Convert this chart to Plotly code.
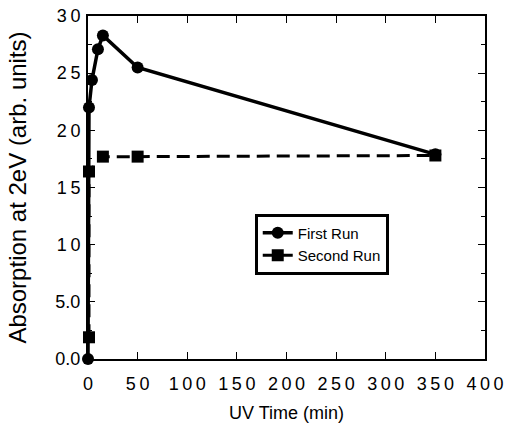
import plotly.graph_objects as go

first_t = [0, 1, 4, 10, 15, 50, 350]
first_abs = [0.0, 22.0, 24.4, 27.1, 28.3, 25.5, 17.9]
second_t = [1, 1, 15, 50, 350]
second_abs = [1.9, 16.4, 17.7, 17.7, 17.8]

y_tickvals = [0, 5, 10, 15, 20, 25, 30]
y_ticktext = ["0.0", "5.0", "1\u20090", "1\u20095", "2\u20090", "2\u20095", "3\u20090"]
x_tickvals = [0, 50, 100, 150, 200, 250, 300, 350, 400]
x_ticktext = ["0", "5\u20090", "1\u20090\u20090", "1\u20095\u20090", "2\u20090\u20090",
              "2\u20095\u20090", "3\u20090\u20090", "3\u20095\u20090", "4\u20090\u20090"]

FONT = "Liberation Sans, Arial, sans-serif"

fig = go.Figure()
fig.add_trace(go.Scatter(
    x=first_t, y=first_abs, mode="lines+markers", name="First Run",
    line=dict(color="black", width=3.5),
    marker=dict(symbol="circle", size=12, color="black"),
    cliponaxis=False,
))
fig.add_trace(go.Scatter(
    x=second_t, y=second_abs, mode="lines+markers", name="Second Run",
    line=dict(color="black", width=3, dash="13px,7px"),
    marker=dict(symbol="square", size=12, color="black"),
    cliponaxis=False,
))

fig.update_layout(
    width=506, height=425,
    margin=dict(l=88, r=21, t=16, b=66, autoexpand=False),
    paper_bgcolor="white", plot_bgcolor="white",
    font=dict(family=FONT, size=18, color="black"),
    showlegend=True,
    legend=dict(
        x=0.42, y=0.424, xanchor="left", yanchor="top",
        bgcolor="white", bordercolor="black", borderwidth=3,
        font=dict(family=FONT, size=15, color="black"),
        itemwidth=30, tracegroupgap=0,
    ),
    xaxis=dict(
        range=[0, 400], tickvals=x_tickvals, ticktext=x_ticktext,
        ticks="inside", ticklen=7, tickwidth=1, tickcolor="black",
        showline=True, linecolor="black", linewidth=2, mirror="ticks",
        showgrid=False, zeroline=False, automargin=False,
        ticklabelstandoff=7, ticklabeloverflow="allow",
        tickfont=dict(family=FONT, size=18),
        title=dict(text="UV Time (min)", font=dict(family=FONT, size=18), standoff=14),
    ),
    yaxis=dict(
        range=[0, 30], tickvals=y_tickvals, ticktext=y_ticktext,
        ticks="inside", ticklen=7, tickwidth=1, tickcolor="black",
        minor=dict(tickvals=[2.5, 7.5, 12.5, 17.5, 22.5, 27.5], ticks="inside", ticklen=4, tickcolor="black"),
        showline=True, linecolor="black", linewidth=2, mirror="ticks",
        showgrid=False, zeroline=False, automargin=False,
        ticklabelstandoff=2, ticklabeloverflow="allow",
        tickfont=dict(family=FONT, size=18),
        title=dict(text="Absorption at 2eV (arb. units)", font=dict(family=FONT, size=24), standoff=22),
    ),
)

# remove the default 8px page margin so the figure fills the window exactly
fig.write_html("out.html", config={"displayModeBar": False},
               post_script="document.body.style.margin='0px';")
